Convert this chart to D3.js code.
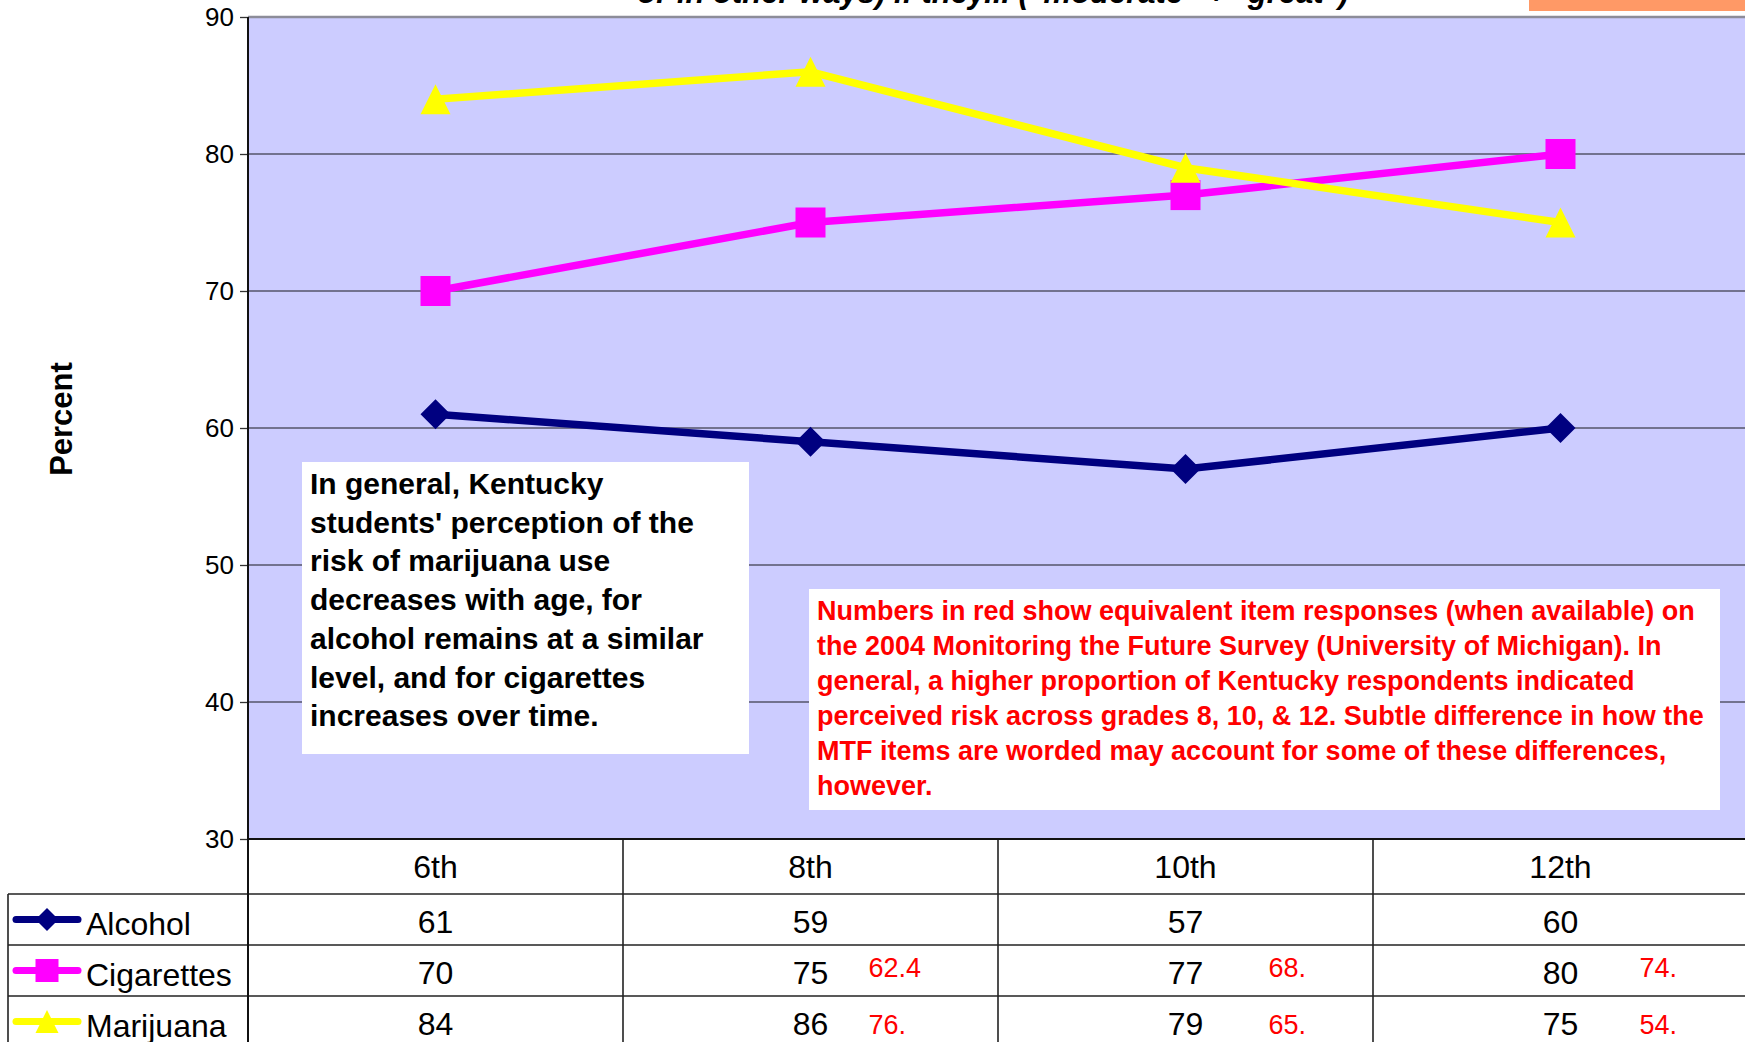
<!DOCTYPE html>
<html>
<head>
<meta charset="utf-8">
<script src="https://cdn.jsdelivr.net/npm/d3@7"></script>
<style>
  body { margin: 0; background: #fff; }
  svg { display: block; font-family: "Liberation Sans", Arial, sans-serif; }
</style>
</head>
<body>
<svg class="chart"></svg>
<script>
var grades = ["6th", "8th", "10th", "12th"];
var series = ["Alcohol", "Cigarettes", "Marijuana"];
var alcohol = [61, 59, 57, 60];
var cigarettes = [70, 75, 77, 80];
var marijuana = [84, 86, 79, 75];
// 2004 Monitoring the Future values, as printed (truncated) in the table
var mtfCigarettes = [null, "62.4", "68.", "74."];
var mtfMarijuana = [null, "76.", "65.", "54."];
var yTicks = [30, 40, 50, 60, 70, 80, 90];

var titleText = "or in other ways) if they... (\"moderate\" + \"great\")";
var noteLines = [
    "In general, Kentucky",
    "students' perception of the",
    "risk of marijuana use",
    "decreases with age, for",
    "alcohol remains at a similar",
    "level, and for cigarettes",
    "increases over time."
];
var mtfLines = [
    "Numbers in red show equivalent item responses (when available) on",
    "the 2004 Monitoring the Future Survey (University of Michigan). In",
    "general, a higher proportion of Kentucky respondents indicated",
    "perceived risk across grades 8, 10, & 12. Subtle difference in how the",
    "MTF items are worded may account for some of these differences,",
    "however."
];

var colors = {Alcohol: "#000080", Cigarettes: "#ff00ff", Marijuana: "#ffff00"};
var values = {Alcohol: alcohol, Cigarettes: cigarettes, Marijuana: marijuana};
var mtf = {Alcohol: [null, null, null, null], Cigarettes: mtfCigarettes, Marijuana: mtfMarijuana};
var redOffset = [0, 58, 83, 79];
var redBaseline = [32, 32, 38];

var width = 1745, height = 1042;
var plot = {left: 248, top: 17, right: 1745, bottom: 839};
var headerH = 55, rowH = 51;

var svg = d3.select(".chart")
    .attr("width", width)
    .attr("height", height);

var x = d3.scaleBand().domain(grades).range([plot.left, plot.left + 1500]);
var y = d3.scaleLinear().domain([30, 90]).range([plot.bottom, plot.top]);
function cx(g) { return x(g) + x.bandwidth() / 2; }

// title (cut off at the top edge) and orange box
svg.append("text")
    .attr("x", 993)
    .attr("y", 3)
    .attr("text-anchor", "middle")
    .style("font-size", "31px")
    .style("font-weight", "bold")
    .style("font-style", "italic")
    .text(titleText);
svg.append("rect")
    .attr("x", 1529).attr("y", 0)
    .attr("width", 216).attr("height", 11)
    .attr("fill", "#ff9966");

// plot background
svg.append("rect")
    .attr("x", plot.left).attr("y", plot.top)
    .attr("width", plot.right - plot.left)
    .attr("height", plot.bottom - plot.top)
    .attr("fill", "#ccccff");

// gridlines
svg.selectAll("line.grid")
    .data(yTicks.slice(1, -1))
    .enter()
    .append("line")
    .attr("class", "grid")
    .attr("x1", plot.left).attr("x2", plot.right)
    .attr("y1", function(d) { return y(d); })
    .attr("y2", function(d) { return y(d); })
    .attr("stroke", "#55556a")
    .attr("stroke-width", 1.3);

svg.append("line")
    .attr("x1", plot.left).attr("x2", plot.right)
    .attr("y1", plot.top).attr("y2", plot.top)
    .attr("stroke", "#8c8c99")
    .attr("stroke-width", 2.5);

var yAxis = d3.axisLeft(y).tickValues(yTicks).tickSize(8).tickPadding(6);
var axisGroup = svg.append("g")
    .attr("transform", "translate(" + plot.left + ",0)")
    .call(yAxis);
axisGroup.select(".domain").remove();
axisGroup.selectAll("line").attr("stroke", "#333").attr("stroke-width", 1.3);
axisGroup.selectAll("text")
    .attr("fill", "#000")
    .style("font-size", "26px")
    .style("font-family", "'Liberation Sans', Arial, sans-serif");

svg.append("text")
    .attr("transform", "translate(72,419) rotate(-90)")
    .attr("text-anchor", "middle")
    .style("font-size", "31px")
    .style("font-weight", "bold")
    .text("Percent");

// lines and markers
function markerPath(name, r) {
    if (name === "Alcohol") {
        return "M0," + (-r) + "L" + r + ",0L0," + r + "L" + (-r) + ",0Z";
    } else if (name === "Cigarettes") {
        return "M" + (-r) + "," + (-r) + "H" + r + "V" + r + "H" + (-r) + "Z";
    }
    return "M0," + (-r) + "L" + r + "," + r + "H" + (-r) + "Z";
}

var line = d3.line()
    .x(function(d, i) { return cx(grades[i]); })
    .y(function(d) { return y(d); });

series.forEach(function(name) {
    var g = svg.append("g");
    g.append("path")
        .datum(values[name])
        .attr("d", line)
        .attr("fill", "none")
        .attr("stroke", colors[name])
        .attr("stroke-width", 7.5);
    g.selectAll("path.marker")
        .data(values[name])
        .enter()
        .append("path")
        .attr("class", "marker")
        .attr("transform", function(d, i) {
            return "translate(" + cx(grades[i]) + "," + y(d) + ")";
        })
        .attr("d", markerPath(name, 15))
        .attr("fill", colors[name]);
});

// text boxes
svg.append("rect")
    .attr("x", 302).attr("y", 462)
    .attr("width", 447).attr("height", 292)
    .attr("fill", "#fff");
svg.append("g").selectAll("text")
    .data(noteLines)
    .enter()
    .append("text")
    .attr("x", 310)
    .attr("y", function(d, i) { return 494 + i * 38.7; })
    .style("font-size", "30px")
    .style("font-weight", "bold")
    .text(function(d) { return d; });

svg.append("rect")
    .attr("x", 809).attr("y", 589)
    .attr("width", 911).attr("height", 221)
    .attr("fill", "#fff");
svg.append("g").selectAll("text")
    .data(mtfLines)
    .enter()
    .append("text")
    .attr("x", 817)
    .attr("y", function(d, i) { return 620 + i * 35; })
    .attr("fill", "#ff0000")
    .style("font-size", "27px")
    .style("font-weight", "bold")
    .text(function(d) { return d; });

// data table
var table = svg.append("g");
table.append("rect")
    .attr("x", plot.left).attr("y", plot.bottom)
    .attr("width", plot.right - plot.left).attr("height", height - plot.bottom)
    .attr("fill", "#fff");
table.append("rect")
    .attr("x", 8).attr("y", plot.bottom + headerH)
    .attr("width", plot.left - 8).attr("height", height - plot.bottom - headerH)
    .attr("fill", "#fff");

var rowTops = series.map(function(s, i) { return plot.bottom + headerH + i * rowH; });

table.selectAll("line.hrow")
    .data(rowTops)
    .enter()
    .append("line")
    .attr("class", "hrow")
    .attr("x1", 8).attr("x2", plot.right)
    .attr("y1", function(d) { return d; })
    .attr("y2", function(d) { return d; })
    .attr("stroke", "#222")
    .attr("stroke-width", 1.6);

table.selectAll("line.vcol")
    .data(grades)
    .enter()
    .append("line")
    .attr("class", "vcol")
    .attr("x1", function(d) { return x(d); })
    .attr("x2", function(d) { return x(d); })
    .attr("y1", plot.bottom).attr("y2", height)
    .attr("stroke", "#222")
    .attr("stroke-width", 1.6);

table.append("line")
    .attr("x1", 8).attr("x2", 8)
    .attr("y1", plot.bottom + headerH).attr("y2", height)
    .attr("stroke", "#222")
    .attr("stroke-width", 1.6);

// plot left axis line and bottom line
svg.append("line")
    .attr("x1", plot.left).attr("x2", plot.left)
    .attr("y1", plot.top).attr("y2", height)
    .attr("stroke", "#111")
    .attr("stroke-width", 2);
svg.append("line")
    .attr("x1", plot.left).attr("x2", plot.right)
    .attr("y1", plot.bottom).attr("y2", plot.bottom)
    .attr("stroke", "#111")
    .attr("stroke-width", 2.2);

table.selectAll("text.grade")
    .data(grades)
    .enter()
    .append("text")
    .attr("class", "grade")
    .attr("x", function(d) { return cx(d); })
    .attr("y", plot.bottom + 39)
    .attr("text-anchor", "middle")
    .style("font-size", "32px")
    .text(function(d) { return d; });

series.forEach(function(name, r) {
    var top = rowTops[r];
    var mid = top + rowH / 2;
    var leg = table.append("g");
    leg.append("line")
        .attr("x1", 16).attr("x2", 78)
        .attr("y1", mid).attr("y2", mid)
        .attr("stroke", colors[name])
        .attr("stroke-width", 7)
        .attr("stroke-linecap", "round");
    leg.append("path")
        .attr("transform", "translate(47," + mid + ")")
        .attr("d", markerPath(name, 11.5))
        .attr("fill", colors[name]);
    leg.append("text")
        .attr("x", 86)
        .attr("y", top + 41)
        .style("font-size", "32px")
        .text(name);

    table.selectAll("text.v" + r)
        .data(values[name])
        .enter()
        .append("text")
        .attr("x", function(d, i) { return cx(grades[i]); })
        .attr("y", top + 39)
        .attr("text-anchor", "middle")
        .style("font-size", "32px")
        .text(function(d) { return d; });

    var reds = mtf[name]
        .map(function(d, i) { return {label: d, grade: grades[i], off: redOffset[i]}; })
        .filter(function(d) { return d.label !== null; });
    table.selectAll("text.m" + r)
        .data(reds)
        .enter()
        .append("text")
        .attr("x", function(d) { return cx(d.grade) + d.off; })
        .attr("y", top + redBaseline[r])
        .attr("fill", "#ff0000")
        .style("font-size", "27px")
        .text(function(d) { return d.label; });
});
</script>
</body>
</html>
